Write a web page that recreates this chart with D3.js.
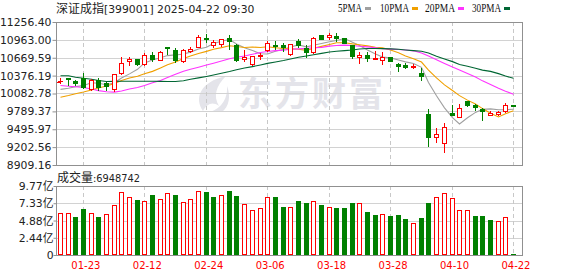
<!DOCTYPE html>
<html><head><meta charset="utf-8">
<script src="https://cdn.jsdelivr.net/npm/d3@7"></script>
<style>
html,body{margin:0;padding:0;background:#fff;}
svg{display:block;}
text{font-family:"DejaVu Sans","Noto Sans CJK SC",sans-serif;}
</style></head><body>
<svg id="c" width="578" height="276"></svg>
<script>
const dates = ["01-20","01-21","01-22","01-23","01-24","01-27","02-05","02-06","02-07","02-10","02-11","02-12","02-13","02-14","02-17","02-18","02-19","02-20","02-21","02-24","02-25","02-26","02-27","02-28","03-03","03-04","03-05","03-06","03-07","03-10","03-11","03-12","03-13","03-14","03-17","03-18","03-19","03-20","03-21","03-24","03-25","03-26","03-27","03-28","03-31","04-01","04-02","04-03","04-07","04-08","04-09","04-10","04-11","04-14","04-15","04-16","04-17","04-18","04-21","04-22"];
const open  = [10290,10330,10283,10337,10161,10299,10250,10157,10424,10621,10644,10567,10710,10637,10841,10797,10616,10785,10851,10994,10887,10900,10994,10874,10654,10567,10700,10801,10884,10874,10731,10939,10830,10764,11038,11015,11027,10994,10874,10686,10720,10650,10632,10677,10567,10545,10523,10414,9746,9364,9275,9758,9692,9955,9889,9823,9725,9746,9790,9889];
const high  = [10337,10332,10304,10419,10326,10337,10271,10410,10677,10677,10650,10743,10764,10780,10845,10830,10808,10841,11038,11059,10969,10980,11038,10895,10797,10700,10747,10939,10949,10917,10900,10972,10874,11005,11042,11071,11071,11000,10884,10764,10764,10775,10764,10684,10588,10588,10567,10501,9833,9516,9603,9899,9910,9964,9910,9845,9800,9800,9922,9890];
const low   = [10250,10218,10217,10173,10145,10145,10140,10119,10408,10555,10546,10546,10621,10637,10731,10595,10600,10764,10851,10928,10854,10857,10818,10611,10611,10555,10649,10775,10808,10785,10720,10851,10686,10747,10978,10982,10949,10907,10665,10588,10621,10648,10567,10615,10447,10501,10501,10304,9221,9287,9123,9725,9690,9878,9812,9648,9722,9725,9779,9884];
const close = [10295,10318,10250,10194,10299,10194,10198,10403,10583,10644,10572,10720,10649,10759,10825,10628,10792,10808,11005,10977,10936,10977,10949,10637,10677,10698,10720,10917,10862,10846,10890,10884,10764,10994,10982,11038,10994,10917,10698,10710,10670,10662,10677,10621,10530,10525,10539,10370,9374,9418,9538,9735,9845,9889,9856,9790,9768,9779,9899,9885];
const volume = [5.92,5.92,5.40,6.53,5.92,5.40,5.82,7.06,8.90,8.19,7.81,7.67,8.52,7.95,8.76,8.52,7.48,7.95,9.09,8.95,8.24,8.52,9.09,8.38,7.20,6.35,6.63,8.19,8.24,6.82,6.80,7.67,7.38,7.63,7.10,6.80,6.67,6.67,7.38,7.34,6.11,5.68,5.78,5.54,5.68,5.11,4.50,5.25,7.38,8.19,8.76,8.05,6.39,6.39,5.49,5.49,4.97,4.78,5.35,0.14];
const ma5  = [10150,10170,10195,10215,10258,10251,10227,10258,10336,10405,10480,10584,10634,10669,10705,10716,10731,10762,10812,10842,10904,10941,10969,10895,10835,10788,10736,10730,10775,10809,10847,10880,10849,10875,10903,10932,10954,10985,10926,10871,10798,10731,10683,10668,10634,10602,10576,10513,10264,10045,9848,9687,9582,9685,9773,9823,9830,9816,9818,9824];
const ma10 = [10022,10050,10079,10107,10140,10173,10206,10247,10296,10336,10366,10406,10446,10503,10555,10599,10658,10698,10740,10774,10810,10836,10866,10853,10839,10846,10838,10849,10835,10822,10818,10808,10790,10826,10856,10888,10916,10916,10897,10884,10864,10842,10833,10796,10751,10700,10654,10599,10467,10338,10225,10131,10048,9974,9909,9835,9758,9699,9752,9798];
const ma20 = [10214,10203,10193,10181,10157,10130,10112,10106,10124,10157,10180,10214,10258,10296,10344,10398,10447,10480,10514,10551,10580,10615,10652,10677,10697,10727,10755,10773,10786,10795,10808,10816,10824,10833,10840,10860,10870,10876,10870,10859,10848,10833,10818,10811,10805,10798,10783,10748,10698,10637,10575,10516,10469,10413,10354,10290,10232,10168,10120,10071];
const ma30 = [10375,10375,10349,10332,10317,10296,10280,10281,10283,10283,10283,10283,10283,10281,10280,10280,10291,10316,10339,10363,10386,10414,10444,10473,10500,10524,10551,10577,10601,10624,10649,10677,10698,10718,10741,10764,10777,10787,10798,10812,10821,10821,10820,10815,10808,10798,10787,10777,10748,10693,10649,10606,10560,10529,10498,10467,10446,10409,10370,10332];
const priceTicks = ["11256.40","10963.00","10669.59","10376.19","10082.78","9789.37","9495.97","9202.56","8909.16"];
const volTicks = ["9.77亿","7.33亿","4.88亿","2.44亿","0"];
const volTickValues = [9.77,7.33,4.88,2.44,0];
const xLabels = ["01-23","02-12","02-24","03-06","03-18","03-28","04-10","04-22"];
const titleCJK = "深证成指";
const titleRest = "[399001] 2025-04-22 09:30";
const volTitleCJK = "成交量";
const volTitleRest = ":6948742";
const legendNames = ["5PMA","10PMA","20PMA","30PMA"];
const maColors = ["#a0a0a0","#f0a000","#ff33ff","#006633"];
const prevCloseMark = 10276;
const watermark = "东方财富";

const RED = "#ff0000", GREEN = "#008000", FRAME = "#909090", GRID = "#d2d2d2";
const svg = d3.select("#c");
const L = 56, R = 522, T = 22, B = 165, VT = 186, VB = 255;

const x = d3.scaleBand().domain(dates).range([L, L + 60 * 7.68]);
const cx = d => Math.round(x(d) + x.bandwidth() / 2);
const y = d3.scaleLinear().domain([+priceTicks[8], +priceTicks[0]]).range([B, T]);
const yv = d3.scaleLinear().domain([0, 9.77]).range([VB, VT]);

// watermark
const wm = svg.append("g").attr("fill", "#e4e4ea");
wm.append("path").attr("d", "M203,111 C194,98 200,82 226,76 C216,86 213,96 219,106 C212,101 207,104 203,111 Z");
wm.append("path").attr("d", "M210,112 C222,108 228,98 227,86 C231,96 229,107 222,112 Z");
wm.append("text").attr("x", 238).attr("y", 106).attr("font-size", 34).attr("font-weight", 700)
  .attr("letter-spacing", 3).style("font-family", "'Noto Sans CJK SC'").text(watermark);

// horizontal grid
svg.append("g").selectAll("line").data(priceTicks.slice(1, -1)).join("line")
  .attr("x1", L).attr("x2", R).attr("y1", d => Math.round(y(+d)) + 0.5).attr("y2", d => Math.round(y(+d)) + 0.5)
  .attr("stroke", GRID).attr("shape-rendering", "crispEdges");
svg.append("g").selectAll("line").data(volTickValues.slice(1, -1)).join("line")
  .attr("x1", L).attr("x2", R).attr("y1", d => Math.round(yv(d)) + 0.5).attr("y2", d => Math.round(yv(d)) + 0.5)
  .attr("stroke", GRID).attr("shape-rendering", "crispEdges");
// vertical dashed grid
const vg = svg.append("g").attr("stroke", "#c8c8c8").attr("stroke-dasharray", "4,3").attr("shape-rendering", "crispEdges");
xLabels.forEach(d => {
  vg.append("line").attr("x1", cx(d) + 0.5).attr("x2", cx(d) + 0.5).attr("y1", T).attr("y2", B);
  vg.append("line").attr("x1", cx(d) + 0.5).attr("x2", cx(d) + 0.5).attr("y1", VT).attr("y2", VB);
});

// frames
svg.append("rect").attr("x", L + 0.5).attr("y", T + 0.5).attr("width", R - L).attr("height", B - T)
  .attr("fill", "none").attr("stroke", FRAME).attr("shape-rendering", "crispEdges");
svg.append("rect").attr("x", L + 0.5).attr("y", VT + 0.5).attr("width", R - L).attr("height", VB - VT)
  .attr("fill", "none").attr("stroke", FRAME).attr("shape-rendering", "crispEdges");

// axes
const yAxis = d3.axisLeft(y).tickValues(priceTicks.map(Number)).tickFormat((d, i) => priceTicks[i]).tickSize(4).tickPadding(1);
const ya = svg.append("g").attr("transform", `translate(${L + 0.5},0)`).call(yAxis);
ya.select(".domain").remove();
ya.selectAll("line").attr("stroke", FRAME);
ya.selectAll("text").attr("font-size", 10.8).attr("fill", "#222").style("font-family", "'DejaVu Sans'");

const vAxis = d3.axisLeft(yv).tickValues(volTickValues).tickFormat((d, i) => volTicks[i]).tickSize(3).tickPadding(0);
const va = svg.append("g").attr("transform", `translate(${L + 0.5},0)`).call(vAxis);
va.select(".domain").remove();
va.selectAll("line").attr("stroke", FRAME);
va.selectAll("text").attr("font-size", 10.8).attr("fill", "#222").style("font-family", "'DejaVu Sans','Noto Sans CJK SC'");

const xAxis = d3.axisBottom(x).tickValues(xLabels).tickSize(0).tickPadding(7);
const xa = svg.append("g").attr("transform", `translate(${x.bandwidth() / 2 - (x.bandwidth() / 2 % 1)},${VB})`).call(xAxis);
xa.select(".domain").remove();
xa.selectAll("text").attr("font-size", 10).attr("fill", RED).style("font-family", "'DejaVu Sans'");

// previous close marker
svg.append("line").attr("x1", L + 1).attr("x2", L + 5).attr("y1", Math.round(y(prevCloseMark)) + 0.5).attr("y2", Math.round(y(prevCloseMark)) + 0.5)
  .attr("stroke", RED).attr("shape-rendering", "crispEdges");

// volume bars
const idx = d3.range(dates.length);
const up = i => i === 0 ? true : close[i] >= close[i - 1];
const vb = svg.append("g").attr("shape-rendering", "crispEdges");
idx.forEach(i => {
  const c = cx(dates[i]), top = Math.round(yv(volume[i]));
  if (up(i)) {
    vb.append("rect").attr("x", c - 1.5).attr("y", top + 0.5).attr("width", 4).attr("height", Math.max(0, VB - top - 1))
      .attr("fill", "#fff").attr("stroke", RED);
  } else {
    vb.append("rect").attr("x", c - 2).attr("y", top).attr("width", 5).attr("height", Math.max(1, VB - top))
      .attr("fill", GREEN);
  }
});

// MA lines
[ma5, ma10, ma20, ma30].forEach((arr, k) => {
  const line = d3.line().x((d, i) => cx(dates[i]) + 0.5).y(d => y(d));
  svg.append("path").attr("d", line(arr)).attr("fill", "none").attr("stroke", maColors[k]).attr("stroke-width", 1.1);
});

// candles
const cg = svg.append("g").attr("shape-rendering", "crispEdges");
idx.forEach(i => {
  const c = cx(dates[i]);
  const isUp = close[i] >= open[i];
  const col = isUp ? RED : GREEN;
  const yh = Math.round(y(high[i])), yl = Math.round(y(low[i]));
  const yo = Math.round(y(open[i])), yc = Math.round(y(close[i]));
  cg.append("line").attr("x1", c + 0.5).attr("x2", c + 0.5).attr("y1", yh).attr("y2", yl + 1).attr("stroke", col);
  const top = Math.min(yo, yc), bot = Math.max(yo, yc);
  if (isUp) {
    if (bot - top < 2) {
      cg.append("rect").attr("x", c - 2).attr("y", top).attr("width", 5).attr("height", Math.max(1, bot - top + 1)).attr("fill", col);
    } else {
      cg.append("rect").attr("x", c - 1.5).attr("y", top + 0.5).attr("width", 4).attr("height", bot - top)
        .attr("fill", "#fff").attr("stroke", col);
    }
  } else {
    cg.append("rect").attr("x", c - 2).attr("y", top).attr("width", 5).attr("height", Math.max(1, bot - top + 1)).attr("fill", col);
  }
});

// title
const tt = svg.append("text").attr("x", 56).attr("y", 13).attr("fill", "#222");
tt.append("tspan").attr("font-size", 12).style("font-family", "'Noto Sans CJK SC'").text(titleCJK);
tt.append("tspan").attr("font-size", 10.8).style("font-family", "'DejaVu Sans'").text(titleRest);

// volume title
const vt = svg.append("text").attr("x", 57).attr("y", 182).attr("fill", "#222");
vt.append("tspan").attr("font-size", 12).style("font-family", "'Noto Sans CJK SC'").text(volTitleCJK);
vt.append("tspan").attr("font-size", 9.8).style("font-family", "'DejaVu Sans'").text(volTitleRest);

// legend
const legX = [338, 380, 425, 472], legW = [24, 29, 30, 29];
legendNames.forEach((n, k) => {
  svg.append("text").attr("x", legX[k]).attr("y", 12).attr("font-size", 12).attr("fill", "#111")
    .attr("textLength", legW[k]).attr("lengthAdjust", "spacingAndGlyphs")
    .style("font-family", "'Liberation Serif'").text(n);
  svg.append("rect").attr("x", legX[k] + legW[k] + 3).attr("y", 7).attr("width", 6).attr("height", 3).attr("fill", maColors[k]);
});
</script>
</body></html>
